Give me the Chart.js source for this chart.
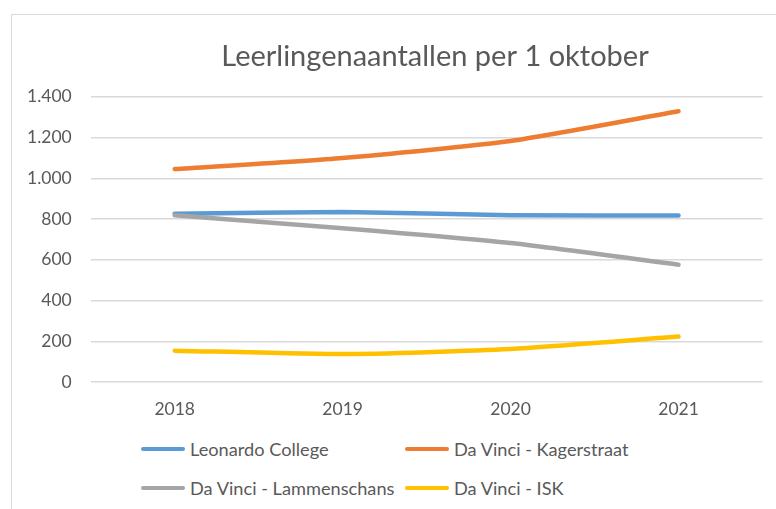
<!DOCTYPE html>
<html>
<head>
<meta charset="utf-8">
<script src="https://cdn.jsdelivr.net/npm/chart.js@4.4.0/dist/chart.umd.min.js"></script>
<style>
  body { margin: 0; background: #fff; width: 776px; height: 509px; overflow: hidden; position: relative; font-family: Lato, "Noto Sans", sans-serif; }
  #frame { position: absolute; left: 11px; top: 14px; width: 800px; height: 520px; border: 1px solid #d9d9d9; }
  #wrap { position: absolute; left: -6px; top: 15px; width: 882px; height: 414px; }
  #legend { position: absolute; left: 141px; top: 438px; display: grid; grid-template-columns: 264px 260px; row-gap: 17px; }
  .item { display: flex; align-items: center; font-size: 18.2px; color: #595959; height: 22px; }
  .swatch { width: 44px; height: 4px; border-radius: 2px; margin-right: 5px; }
</style>
</head>
<body>
<div id="frame"></div>
<div id="wrap"><canvas id="chart"></canvas></div>
<div id="legend"></div>
<script>
var years = ['2018', '2019', '2020', '2021']
var seriesNames = ['Leonardo College', 'Da Vinci - Kagerstraat', 'Da Vinci - Lammenschans', 'Da Vinci - ISK']
var leonardo = [826, 834, 819, 817]
var kagerstraat = [1045, 1100, 1183, 1329]
var lammenschans = [818, 755, 682, 576]
var isk = [154, 137, 162, 223]
var colors = ['#5b9bd5', '#ed7d31', '#a5a5a5', '#ffc000']

var allValues = [leonardo, kagerstraat, lammenschans, isk]

function formatNl(v) {
    return String(v).replace(/\B(?=(\d{3})+(?!\d))/g, '.')
}

var datasets = allValues.map(function(vals, i) {
    return {
        label: seriesNames[i],
        data: vals,
        borderColor: colors[i],
        backgroundColor: colors[i],
        borderWidth: 4.5,
        borderCapStyle: 'round',
        borderJoinStyle: 'round',
        pointRadius: 0,
        tension: 0.2,
        order: 4 - i
    }
})

var ctx = document.getElementById('chart').getContext('2d')
var chart = new Chart(ctx, {
    type: 'line',
    data: {
        labels: years,
        datasets: datasets
    },
    options: {
        responsive: true,
        maintainAspectRatio: false,
        animation: false,
        layout: { padding: { left: 14, right: 14, bottom: 0, top: 0 } },
        plugins: {
            legend: { display: false },
            tooltip: { enabled: false },
            title: {
                display: true,
                text: 'Leerlingenaantallen per 1 oktober',
                color: '#595959',
                font: { family: 'Lato', size: 29, weight: 'normal' },
                padding: { top: 24, bottom: 23 }
            }
        },
        scales: {
            x: {
                offset: true,
                grid: { display: false },
                border: { display: false },
                ticks: { color: '#595959', font: { family: 'Lato', size: 17.5 }, padding: 9, maxRotation: 0, autoSkip: false }
            },
            y: {
                min: 0,
                max: 1400,
                border: { display: false },
                grid: { color: '#d9d9d9', lineWidth: 1.5, drawTicks: false },
                ticks: {
                    stepSize: 200,
                    color: '#595959',
                    font: { family: 'Lato', size: 17.5 },
                    padding: 19,
                    callback: function(v) { return formatNl(v) }
                }
            },
            // empty spacer on the right (past the visible edge) so the title sits off-centre like in Excel
            spacer: {
                type: 'linear',
                position: 'right',
                display: true,
                grid: { display: false },
                border: { display: false },
                ticks: { display: false },
                afterFit: function(scale) { scale.width = 99.5 }
            }
        }
    }
})

// legend laid out in two columns like the original
var legend = document.getElementById('legend')
seriesNames.forEach(function(name, i) {
    legend.innerHTML = legend.innerHTML + '<div class="item"><span class="swatch" style="background:' + colors[i] + '"></span>' + name + '</div>'
})
</script>
</body>
</html>
